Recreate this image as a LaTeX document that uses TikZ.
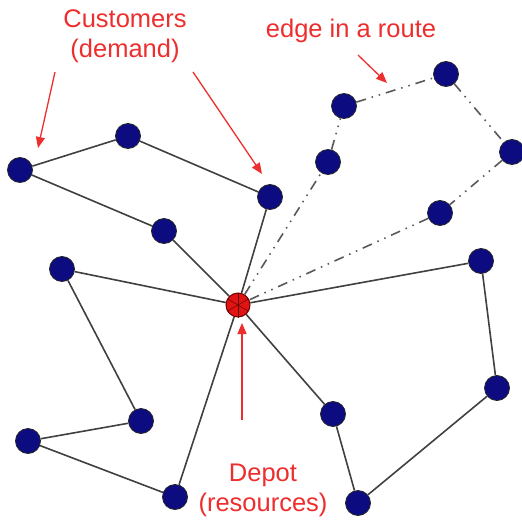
\documentclass[tikz,border=0pt]{standalone}
\usepackage{fontspec}
\setmainfont{Liberation Sans}
\usetikzlibrary{arrows.meta}
\definecolor{custblue}{RGB}{12,12,128}
\definecolor{noteRed}{RGB}{238,45,45}
\definecolor{depotRed}{RGB}{225,20,20}

\begin{document}
\begin{tikzpicture}[x=1pt, y=-1pt,
    customer/.style={circle, draw=black!85, fill=custblue, line width=0.8pt,
                     minimum size=25pt, inner sep=0pt},
    depot/.style={circle, draw=red!45!black, fill=depotRed, line width=1pt,
                  minimum size=24pt, inner sep=0pt},
    leg/.style={draw=black!75, line width=1.6pt},
    dashleg/.style={draw=black!65, line width=1.6pt,
                    dash pattern=on 10pt off 6pt on 1.5pt off 6pt on 1.5pt off 6pt},
    note/.style={text=noteRed, align=center, font=\fontsize{25.5}{30}\selectfont},
    pointer/.style={draw=noteRed, line width=1.3pt, -{Triangle[length=11pt,width=9pt]}}]
  % canvas
  \useasboundingbox (0,0) rectangle (522,522);

  % depot
  \node[depot] (depot) at (238,305) {};
  \foreach \a in {30,90,150} {
    \draw[red!40!black, line width=0.5pt] (depot.\a) -- (depot.\a+180);
  }

  % customers, four routes
  \node[customer] (a1) at (164,231) {};
  \node[customer] (a2) at (20,170) {};
  \node[customer] (a3) at (128,136) {};
  \node[customer] (a4) at (270,197) {};

  \node[customer] (b1) at (328,162) {};
  \node[customer] (b2) at (344,106) {};
  \node[customer] (b3) at (446,74) {};
  \node[customer] (b4) at (512,152) {};
  \node[customer] (b5) at (440,213) {};

  \node[customer] (c1) at (481,261) {};
  \node[customer] (c2) at (497,388) {};
  \node[customer] (c3) at (358,503) {};
  \node[customer] (c4) at (333,414) {};

  \node[customer] (d1) at (62,269) {};
  \node[customer] (d2) at (141,421) {};
  \node[customer] (d3) at (28,441) {};
  \node[customer] (d4) at (175,497) {};

  % route edges
  \draw[leg] (depot) -- (a1) -- (a2) -- (a3) -- (a4) -- (depot);
  \draw[dashleg] (depot) -- (b1) -- (b2) -- (b3) -- (b4) -- (b5) -- (depot);
  \draw[leg] (depot) -- (c1) -- (c2) -- (c3) -- (c4) -- (depot);
  \draw[leg] (depot) -- (d1) -- (d2) -- (d3) -- (d4) -- (depot);

  % labels
  \node[note] (custlbl) at (125,36) {Customers\\(demand)};
  \node[note] (edgelbl) at (351,31) {edge in a route};
  \node[note] (depotlbl) at (263,490) {Depot\\(resources)};

  \coordinate (p1s) at (55,72);   \coordinate (p1e) at (38,148);
  \coordinate (p2s) at (193,72);  \coordinate (p2e) at (262,174);
  \coordinate (p3s) at (358,55);  \coordinate (p3e) at (387,83);
  \coordinate (p4s) at (242,420); \coordinate (p4e) at (242,323);

  \draw[pointer] (p1s) -- (p1e);
  \draw[pointer] (p2s) -- (p2e);
  \draw[pointer] (p3s) -- (p3e);
  \draw[pointer] (p4s) -- (p4e);
\end{tikzpicture}
\end{document}
